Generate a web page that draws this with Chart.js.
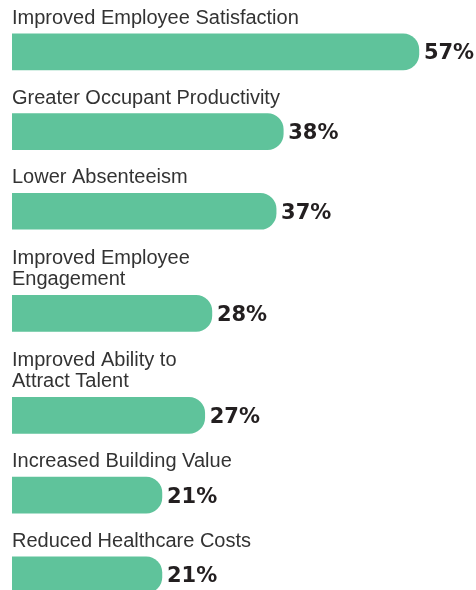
<!DOCTYPE html>
<html>
<head>
<meta charset="utf-8">
<script src="https://cdn.jsdelivr.net/npm/chart.js@4.4.1/dist/chart.umd.min.js"></script>
<style>
  html, body { margin: 0; padding: 0; background: #ffffff; }
  #wrap { width: 476px; height: 590px; position: relative; }
</style>
</head>
<body>
<div id="wrap"><canvas id="benefitsChart" width="476" height="590"></canvas></div>
<script>
// categories (each entry = the lines of the label shown above the bar)
const categories = [
    ['Improved Employee Satisfaction'],
    ['Greater Occupant Productivity'],
    ['Lower Absenteeism'],
    ['Improved Employee', 'Engagement'],
    ['Improved Ability to', 'Attract Talent'],
    ['Increased Building Value'],
    ['Reduced Healthcare Costs']
];
const values = [57, 38, 37, 28, 27, 21, 21];
const valueLabels = ['57%', '38%', '37%', '28%', '27%', '21%', '21%'];

const BAR_COLOR = '#5fc39b';
const LABEL_COLOR = '#333333';
const VALUE_COLOR = '#231f20';
const LINE_H = 21;        // px between label lines
const EXTRA_LINE = 0.28;  // extra row space for a two line label

// row positions follow the label line count
const rowPos = [];
categories.forEach((lines, i) => {
    if (i === 0) rowPos.push(0);
    else rowPos.push(rowPos[i - 1] + 1 + EXTRA_LINE * (lines.length - 1));
});

const points = values.map((v, i) => ({ x: v, y: rowPos[i] }));

// draws the category text above each bar and the value after it
const barTextPlugin = {
    id: 'barText',
    afterDatasetsDraw(chart) {
        const ctx = chart.ctx;
        const meta = chart.getDatasetMeta(0);
        ctx.save();
        meta.data.forEach((bar, i) => {
            const top = bar.y - bar.height / 2;
            const lines = categories[i];

            ctx.font = '20px "Liberation Sans", Arial, sans-serif';
            ctx.fillStyle = LABEL_COLOR;
            ctx.textAlign = 'left';
            ctx.textBaseline = 'alphabetic';
            lines.forEach((line, j) => {
                const baseY = top - 10 - (lines.length - 1 - j) * LINE_H;
                ctx.fillText(line, chart.chartArea.left, baseY);
            });

            ctx.font = 'bold 21px "DejaVu Sans", sans-serif';
            ctx.fillStyle = VALUE_COLOR;
            ctx.textBaseline = 'middle';
            ctx.fillText(valueLabels[i], bar.x + 5, bar.y + 2);
        });
        ctx.restore();
    }
};

new Chart(document.getElementById('benefitsChart'), {
    type: 'bar',
    data: {
        datasets: [{
            data: points,
            backgroundColor: BAR_COLOR,
            borderRadius: 16,
            borderSkipped: 'start',
            barThickness: 36
        }]
    },
    options: {
        indexAxis: 'y',
        responsive: false,
        animation: false,
        layout: { padding: { left: 12, right: 0, top: 0, bottom: 0 } },
        scales: {
            x: { type: 'linear', min: 0, max: 65, display: false },
            y: { type: 'linear', min: -0.65, max: 6.75, reverse: true, offset: false, display: false }
        },
        plugins: {
            legend: { display: false },
            tooltip: { enabled: false }
        }
    },
    plugins: [barTextPlugin]
});
</script>
</body>
</html>
